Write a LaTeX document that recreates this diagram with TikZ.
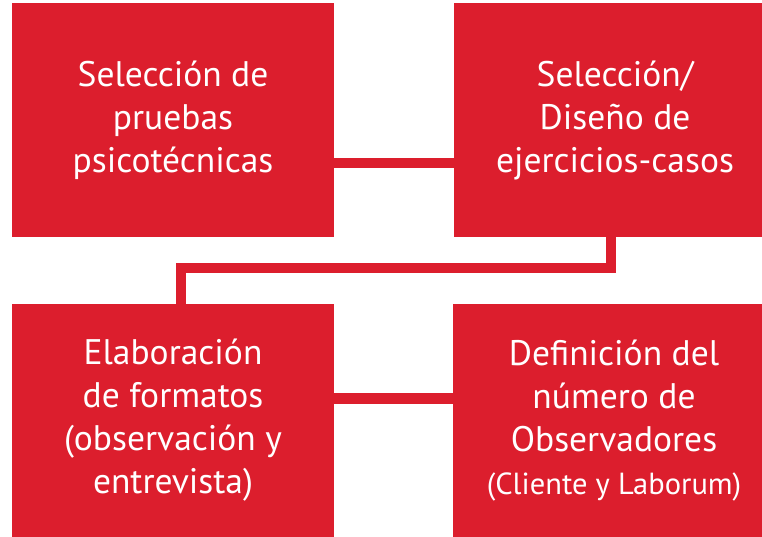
\documentclass[tikz,border=0pt]{standalone}
\usepackage{fontspec}
\setmainfont{PT Sans}
\usepackage{tikz}
\definecolor{rojoc}{RGB}{220,30,45}
\tikzset{
	rednode/.style={rectangle, fill=rojoc, text=white, minimum width=322pt, minimum height=234pt, inner sep=0pt, align=center, font=\fontsize{35.5}{43}\selectfont},
	redlink/.style={line width=10.5pt, color=rojoc}
}
\begin{document}
\begin{tikzpicture}[x=1pt,y=-1pt]
			\clip (0,0) rectangle (762,537);
			\node[rednode] (psico) at (173,120) {Selección de\\pruebas\\psicotécnicas};
			\node[rednode] (casos) at (615,120) {Selección/\\Diseño de\\ejercicios-casos};
			\node[rednode,minimum height=233pt] (formatos) at (173,420.5) {Elaboración\\de formatos\\(observación y\\entrevista)};
			\node[rednode,minimum height=233pt] (observ) at (614,420.5) {Definición del\\número de\\Observadores\\{\fontsize{30.5}{43}\selectfont(Cliente y Laborum)}};
			
			\draw[redlink] (psico.east |- 0,163) -- (casos.west |- 0,163);
			\draw[redlink] ([xshift=-4pt]casos.south) |- ([xshift=8pt]formatos.north |- 0,268) -- ([xshift=8pt]formatos.north);
			\draw[redlink] (formatos.east |- 0,398.5) -- (observ.west |- 0,398.5);
		\end{tikzpicture}
\end{document}
